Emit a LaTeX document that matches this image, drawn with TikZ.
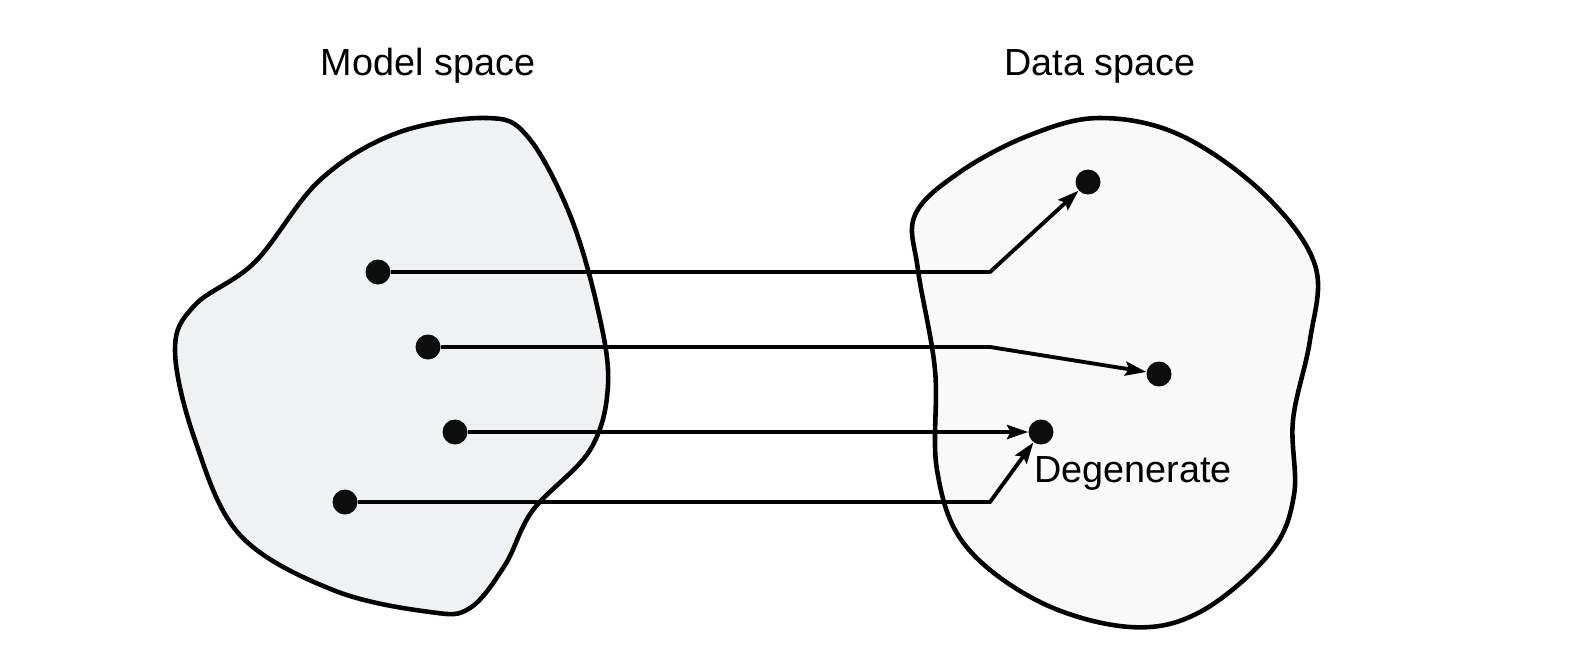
\documentclass[tikz,border=0pt]{standalone}
\usepackage{fontspec}
\setmainfont{Liberation Sans}
\usepackage{xcolor}
\usetikzlibrary{arrows.meta}
\definecolor{modelfill}{RGB}{239,242,243}
\definecolor{datafill}{RGB}{249,249,249}

\begin{document}
\begin{tikzpicture}[x=0.02cm,y=-0.02cm,>={Stealth[length=12pt,width=8pt,inset=2pt]},
    font=\fontsize{21.5}{26}\selectfont,
    blob/.style={line width=2.6pt,draw=black},
    dot/.style={circle,fill=black!95,inner sep=0pt,minimum size=0.5cm},
    link/.style={line width=2.2pt,line join=miter}]
  \useasboundingbox (0,0) rectangle (1583,667);
  % model space
  \draw[blob,fill=modelfill] plot[smooth cycle,tension=0.6] coordinates {
    (397,133) (487,118) (528,137) (570,215) (598,310) (608,385) (590,450)
    (533,510) (505,565) (470,608) (430,612) (333,590) (240,535) (195,440)
    (175,350) (195,305) (255,262) (320,180)};
  % data space
  \draw[blob,fill=datafill] plot[smooth cycle,tension=0.6] coordinates {
    (915,215) (960,172) (1030,135) (1100,118) (1180,135) (1263,193)
    (1315,265) (1310,340) (1293,420) (1294,495) (1270,553) (1200,612)
    (1130,627) (1040,602) (965,545) (937,470) (935,370) (918,270)};
  \node[anchor=base] (mtitle) at (428,75) {Model space};
  \node[anchor=base] (dtitle) at (1100,75) {Data space};
  % points
  \node[dot] (m1) at (378,272) {};
  \node[dot] (m2) at (428,347) {};
  \node[dot] (m3) at (455,432) {};
  \node[dot] (m4) at (345,502) {};
  \node[dot] (d1) at (1088,182) {};
  \node[dot] (d2) at (1159,374) {};
  \node[dot] (d3) at (1041,432) {};
  \node[anchor=base west,inner sep=0pt] (degen) at (1034,482) {Degenerate};
  \coordinate (bend) at (990,0);
  % mappings
  \draw[link,->] (m1) -- (m1 -| bend) -- (d1);
  \draw[link,->] (m2) -- (m2 -| bend) -- (d2);
  \draw[link,->] (m3) -- (d3);
  \draw[link,->] (m4) -- (m4 -| bend) -- (d3);
\end{tikzpicture}
\end{document}
